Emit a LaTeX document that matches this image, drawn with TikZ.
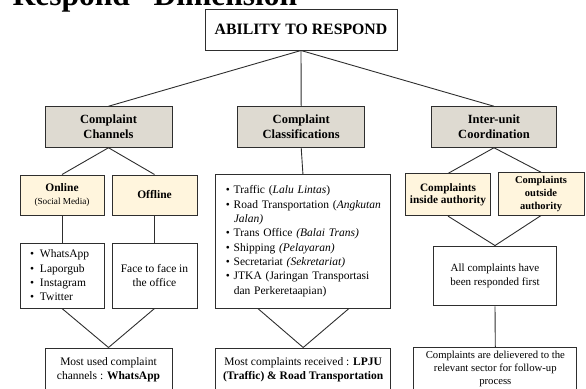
\documentclass[tikz,border=0pt]{standalone}
\usepackage{fontspec}
\setmainfont{Liberation Serif}
\usetikzlibrary{calc}

\definecolor{headfill}{HTML}{DEDAD1}
\definecolor{subfill}{HTML}{FFF5DD}
\definecolor{edge}{HTML}{2E2E2E}

\newcommand{\fs}[2]{\fontsize{#1}{#2}\selectfont}
\newcommand{\bul}[1]{\makebox[#1][l]{\textbullet}}
\newcommand{\row}[1]{\mbox{#1}}

\begin{document}
\begin{tikzpicture}[x=1pt,y=-1pt,
  box/.style={draw=edge, line width=1pt, inner sep=0pt, align=center},
  headbox/.style={box, fill=headfill, font=\fs{12.5}{15}\bfseries},
  subbox/.style={box, fill=subfill, font=\fs{11.5}{12.5}\bfseries},
  plainbox/.style={box, fill=white, font=\fs{11.5}{14.3}},
  link/.style={draw=edge, line width=0.9pt}]

\useasboundingbox (0,0) rectangle (586,388);
\clip (0,0) rectangle (586,388);

% heading
\node (title) [anchor=base west, inner sep=0pt, font=\fs{31.5}{34}\bfseries] at (12.5,5.5) {Respond” Dimension};

% root
\node (root) [box, minimum width=192pt, minimum height=41pt, font=\fs{15.8}{17}\bfseries] at (301,29.5) {ABILITY TO RESPOND};

% first level
\node (chan)  [headbox, minimum width=127pt, minimum height=40.5pt] at (108.5,127) {Complaint\\Channels};
\node (cls)   [headbox, minimum width=127pt, minimum height=40.5pt] at (301.2,127) {Complaint\\Classifications};
\node (inter) [headbox, minimum width=125.7pt, minimum height=40.5pt] at (494,127) {Inter-unit\\Coordination};

% complaint channels branch
\node (online)  [subbox, minimum width=84pt, minimum height=40pt] at (62,195) {Online\\{\fs{9.2}{11}\mdseries (Social Media)}};
\node (offline) [subbox, minimum width=85pt, minimum height=40pt] at (154.5,195) {Offline};
\node (apps) [plainbox, align=left, text width=64pt, inner xsep=10pt, minimum height=65pt] at (62,275.5)
  {\bul{10pt}WhatsApp\\\bul{10pt}Laporgub\\\bul{10pt}Instagram\\\bul{10pt}Twitter};
\node (face) [plainbox, minimum width=85pt, minimum height=65pt] at (154.5,275.5) {Face to face in\\the office};
\node (mostused) [plainbox, minimum width=127pt, minimum height=43.4pt] at (108.5,369.7)
  {Most used complaint\\channels : \textbf{WhatsApp}};

% classification branch
\node (kinds) [plainbox, align=left, text width=154.3pt, inner xsep=10pt, minimum height=133.7pt] at (302.9,241.2)
  {\row{\bul{8pt}Traffic (\textit{Lalu Lintas})}\\
   \row{\bul{8pt}Road Transportation (\textit{Angkutan}}\\
   \row{\hspace*{8pt}\textit{Jalan)}}\\
   \row{\bul{8pt}Trans Office \textit{(Balai Trans)}}\\
   \row{\bul{8pt}Shipping \textit{(Pelayaran)}}\\
   \row{\bul{8pt}Secretariat \textit{(Sekretariat)}}\\
   \row{\bul{8pt}JTKA (Jaringan Transportasi}\\
   \row{\hspace*{8pt}dan Perkeretaapian)}};
\node (mostrecv) [plainbox, minimum width=175pt, minimum height=43.4pt] at (303.2,369.7)
  {Most complaints received : \textbf{LPJU}\\\textbf{(Traffic) \& Road Transportation}};

% coordination branch
\node (inside)  [subbox, minimum width=84.3pt, minimum height=41.7pt, font=\fs{11.3}{12.7}\bfseries] at (448,194.8) {Complaints\\inside authority};
\node (outside) [subbox, minimum width=86pt, minimum height=42.3pt, font=\fs{10.5}{12.7}\bfseries] at (541,193.9) {Complaints\\outside\\authority};
\node (allresp) [plainbox, minimum width=123.4pt, minimum height=59.7pt, font=\fs{11}{14}] at (495,275.9) {All complaints have\\been responded first};
\node (deliver) [plainbox, minimum width=162.7pt, minimum height=43.8pt, font=\fs{10.7}{13.1}] at (495.3,369.2)
  {Complaints are delievered to the\\relevant sector for follow-up\\process};

% connectors
\draw[link] (root.south) -- (chan.north);
\draw[link] (root.south) -- (cls.north);
\draw[link] (root.south) -- (inter.north);

\draw[link] (chan.south) -- (online.north);
\draw[link] (chan.south) -- (offline.north);
\draw[link] (online.south) -- (apps.north);
\draw[link] (offline.south) -- (face.north);
\draw[link] (apps.south) -- (mostused.north);
\draw[link] (face.south) -- (mostused.north);

\draw[link] (cls.south) -- (kinds.north);
\draw[link] ([xshift=-45pt]kinds.south) -- (mostrecv.north);
\draw[link] ([xshift=46pt]kinds.south) -- (mostrecv.north);

\draw[link] (inter.south) -- (inside.north);
\draw[link] (inter.south) -- (outside.north);
\draw[link] (inside.south) -- (allresp.north);
\draw[link] (outside.south) -- (allresp.north);
\draw[link] (allresp.south) -- (deliver.north);
\end{tikzpicture}
\end{document}
